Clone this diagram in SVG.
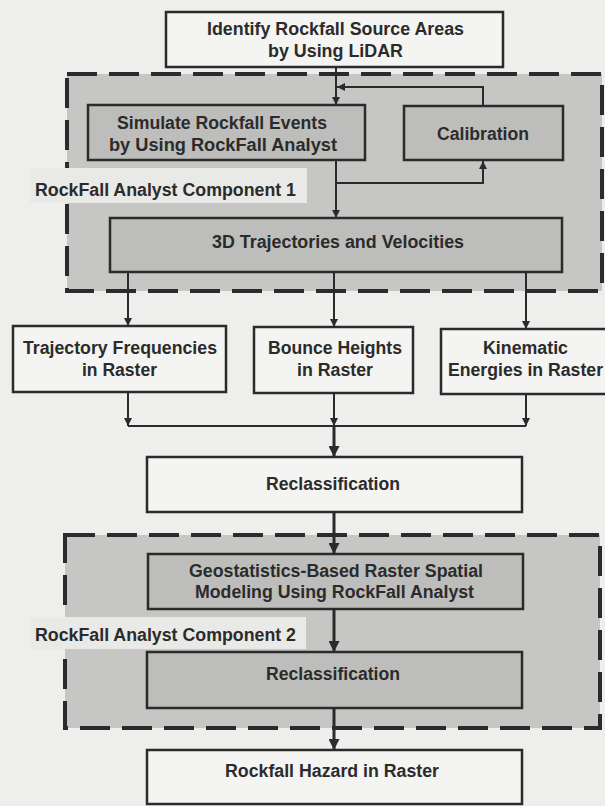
<svg xmlns="http://www.w3.org/2000/svg" width="605" height="806" viewBox="0 0 605 806">
<defs>
<style>
.bg{fill:#eeeeec}
.zone{fill:#c6c6c4}
.dash{fill:none;stroke:#2b2b2b;stroke-width:4;stroke-dasharray:30 12}
.patch{fill:#e9e9e7}
.wbox{fill:#f4f4f2;stroke:#2b2b2b;stroke-width:2.5}
.gbox{fill:#bdbdbb;stroke:#2b2b2b;stroke-width:2.5}
text{font-family:"Liberation Sans Narrow","Liberation Sans",Arial,sans-serif;font-weight:bold;font-size:18px;fill:#2b2b2b}
.c{text-anchor:middle}
.conn{fill:none;stroke:#2b2b2b;stroke-width:2}
.thick{fill:none;stroke:#2b2b2b;stroke-width:3}
</style>
<marker id="ah" viewBox="0 0 10 10" refX="10" refY="5" markerWidth="8" markerHeight="8" markerUnits="userSpaceOnUse" orient="auto">
<path d="M0,0 L10,5 L0,10 z" fill="#2b2b2b"/>
</marker>
<marker id="ahb" viewBox="0 0 10 10" refX="10" refY="5" markerWidth="12" markerHeight="11" markerUnits="userSpaceOnUse" orient="auto">
<path d="M0,0 L10,5 L0,10 z" fill="#2b2b2b"/>
</marker>
</defs>
<rect class="bg" x="0" y="0" width="605" height="806"/>

<g id="component1">
<rect class="zone" x="67" y="74" width="535" height="217"/>
<rect class="dash" x="67" y="74" width="535" height="217"/>
<rect class="patch" x="30" y="168" width="277" height="35"/>
<text x="35" y="196" textLength="261" lengthAdjust="spacingAndGlyphs">RockFall Analyst Component 1</text>
</g>

<g id="component2">
<rect class="zone" x="65" y="535" width="535" height="193"/>
<rect class="dash" x="65" y="535" width="535" height="193"/>
<rect class="patch" x="30" y="617" width="276" height="32"/>
<text x="35" y="641" textLength="261" lengthAdjust="spacingAndGlyphs">RockFall Analyst Component 2</text>
</g>

<g id="connectors">
<path class="conn" d="M336,67 V105" marker-end="url(#ah)"/>
<path class="conn" d="M483,106 V87 H337" marker-end="url(#ah)"/>
<path class="conn" d="M336,160 V218" marker-end="url(#ah)"/>
<path class="conn" d="M336,183 H483 V161" marker-end="url(#ah)"/>
<path class="conn" d="M128,272 V326" marker-end="url(#ah)"/>
<path class="conn" d="M334,272 V327" marker-end="url(#ah)"/>
<path class="conn" d="M526,272 V329" marker-end="url(#ah)"/>
<path class="conn" d="M128,392 V426" marker-end="url(#ah)"/>
<path class="conn" d="M334,393 V426" marker-end="url(#ah)"/>
<path class="conn" d="M526,394 V426" marker-end="url(#ah)"/>
<path class="conn" d="M128,426 H526"/>
<path class="thick" d="M334,426 V457" marker-end="url(#ahb)"/>
<path class="thick" d="M334,512 V554" marker-end="url(#ahb)"/>
<path class="thick" d="M334,609 V652" marker-end="url(#ahb)"/>
<path class="thick" d="M334,708 V750" marker-end="url(#ahb)"/>
</g>

<g id="identify">
<rect class="wbox" x="166" y="12" width="337" height="55"/>
<text class="c" x="335.5" y="35" textLength="257" lengthAdjust="spacingAndGlyphs">Identify Rockfall Source Areas</text>
<text class="c" x="335.5" y="57" textLength="135" lengthAdjust="spacingAndGlyphs">by Using LiDAR</text>
</g>

<g id="simulate">
<rect class="gbox" x="88" y="105" width="277" height="55"/>
<text class="c" x="222" y="129" textLength="210" lengthAdjust="spacingAndGlyphs">Simulate Rockfall Events</text>
<text class="c" x="223" y="151" textLength="228" lengthAdjust="spacingAndGlyphs">by Using RockFall  Analyst</text>
</g>

<g id="calibration">
<rect class="gbox" x="404" y="106" width="159" height="54"/>
<text class="c" x="483" y="140" textLength="92" lengthAdjust="spacingAndGlyphs">Calibration</text>
</g>

<g id="trajectories3d">
<rect class="gbox" x="110" y="218" width="452" height="54"/>
<text class="c" x="338" y="248" textLength="252" lengthAdjust="spacingAndGlyphs">3D Trajectories and Velocities</text>
</g>

<g id="trajfreq">
<rect class="wbox" x="13" y="326" width="213" height="66"/>
<text class="c" x="120" y="354" textLength="194" lengthAdjust="spacingAndGlyphs">Trajectory Frequencies</text>
<text class="c" x="119.5" y="376" textLength="75" lengthAdjust="spacingAndGlyphs">in Raster</text>
</g>

<g id="bounce">
<rect class="wbox" x="254" y="327" width="159" height="66"/>
<text class="c" x="335" y="354" textLength="134" lengthAdjust="spacingAndGlyphs">Bounce Heights</text>
<text class="c" x="335" y="376" textLength="76" lengthAdjust="spacingAndGlyphs">in Raster</text>
</g>

<g id="kinematic">
<rect class="wbox" x="441" y="329" width="167" height="65"/>
<text class="c" x="525.5" y="354" textLength="85" lengthAdjust="spacingAndGlyphs">Kinematic</text>
<text class="c" x="525.5" y="376" textLength="155" lengthAdjust="spacingAndGlyphs">Energies in Raster</text>
</g>

<g id="reclass1">
<rect class="wbox" x="147" y="457" width="375" height="55"/>
<text class="c" x="333" y="490" textLength="134" lengthAdjust="spacingAndGlyphs">Reclassification</text>
</g>

<g id="geostat">
<rect class="gbox" x="148" y="554" width="375" height="55"/>
<text class="c" x="336" y="577" textLength="294" lengthAdjust="spacingAndGlyphs">Geostatistics-Based Raster Spatial</text>
<text class="c" x="334.5" y="598" textLength="279" lengthAdjust="spacingAndGlyphs">Modeling Using RockFall Analyst</text>
</g>

<g id="reclass2">
<rect class="gbox" x="147" y="652" width="375" height="56"/>
<text class="c" x="333" y="680" textLength="134" lengthAdjust="spacingAndGlyphs">Reclassification</text>
</g>

<g id="hazard">
<rect class="wbox" x="147" y="750" width="375" height="54"/>
<text class="c" x="332" y="777" textLength="214" lengthAdjust="spacingAndGlyphs">Rockfall Hazard in Raster</text>
</g>
</svg>
